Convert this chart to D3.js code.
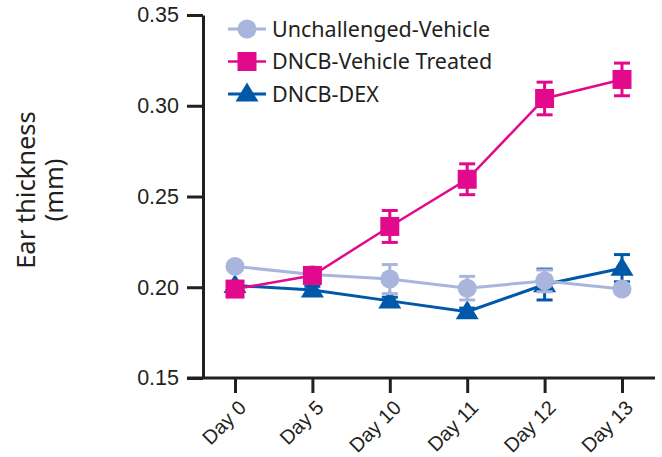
<!DOCTYPE html>
<html>
<head>
<meta charset="utf-8">
<script src="https://cdn.jsdelivr.net/npm/d3@7"></script>
<style>
  html, body { margin: 0; padding: 0; background: #fff; }
  svg { display: block; font-family: "Noto Sans", "Open Sans", sans-serif; }
</style>
</head>
<body>
<svg id="chart" width="662" height="457"></svg>
<script>
// Ear thickness over the study days, by treatment group
const days = ["Day 0", "Day 5", "Day 10", "Day 11", "Day 12", "Day 13"];
const yTicks = [0.15, 0.20, 0.25, 0.30, 0.35];

const seriesNames = ["Unchallenged-Vehicle", "DNCB-Vehicle Treated", "DNCB-DEX"];
const unchallengedMean = [0.2115, 0.207, 0.2045, 0.1995, 0.2035, 0.199];
const unchallengedErr  = [0.002, 0.002, 0.008, 0.0065, 0.006, 0.002];
const dncbVehicleMean  = [0.199, 0.2065, 0.2335, 0.2595, 0.304, 0.3145];
const dncbVehicleErr   = [0.002, 0.002, 0.0088, 0.0085, 0.009, 0.009];
const dncbDexMean      = [0.201, 0.1985, 0.1925, 0.1865, 0.2015, 0.2105];
const dncbDexErr       = [0.002, 0.002, 0.002, 0.002, 0.0085, 0.0075];

const colors = { lav: "#aab5dd", mag: "#e2098c", blue: "#0058a8" };
const axisColor = "#231f20";

const svg = d3.select("#chart");
const margin = { left: 203, top: 15, right: 655, bottom: 378 };

const x = d3.scalePoint().domain(days).range([235, 622]);
const y = d3.scaleLinear().domain([0.15, 0.35]).range([margin.bottom, margin.top]);

// Axes
const yAxis = svg.append("g")
  .attr("transform", `translate(${margin.left},0)`)
  .call(d3.axisLeft(y).tickValues(yTicks).tickFormat(d3.format(".2f")).tickSize(16).tickSizeOuter(0));
yAxis.select(".domain").attr("stroke", axisColor).attr("stroke-width", 3);
yAxis.selectAll(".tick line").attr("stroke", axisColor).attr("stroke-width", 3);
yAxis.selectAll(".tick text").attr("fill", "#231f20").attr("font-size", 21.5).attr("x", -24);

const xAxis = svg.append("g")
  .attr("transform", `translate(0,${margin.bottom})`)
  .call(d3.axisBottom(x).tickSize(15).tickSizeOuter(0));
xAxis.select(".domain").attr("stroke", axisColor).attr("stroke-width", 3)
  .attr("d", `M${margin.left - 16},0H${margin.right}`);
xAxis.selectAll(".tick line").attr("stroke", axisColor).attr("stroke-width", 3);
xAxis.selectAll(".tick text")
  .attr("fill", "#231f20").attr("font-size", 20)
  .attr("text-anchor", "end")
  .attr("dy", "0.35em")
  .attr("transform", "translate(7,26) rotate(-45)")
  .attr("x", 0).attr("y", 0);

// Y axis title
const title = svg.append("text")
  .attr("transform", "translate(44,190) rotate(-90)")
  .attr("text-anchor", "middle")
  .attr("fill", "#231f20")
  .attr("font-size", 25.5);
title.append("tspan").attr("x", 0).attr("dy", "-0.35em").text("Ear thickness");
title.append("tspan").attr("x", 0).attr("dy", "1.1em").text("(mm)");

// Marker shapes
const circleSym = d3.symbol().type(d3.symbolCircle).size(Math.PI * 9.5 * 9.5);
const squareSym = d3.symbol().type(d3.symbolSquare).size(19 * 19);
function triPath() {
  const w = 23, h = 19;
  return `M0,${-h * 0.6}L${w / 2},${h * 0.4}L${-w / 2},${h * 0.4}Z`;
}

const series = [
  { name: seriesNames[2], mean: dncbDexMean, err: dncbDexErr, color: colors.blue, width: 3, shape: "tri" },
  { name: seriesNames[0], mean: unchallengedMean, err: unchallengedErr, color: colors.lav, width: 3, shape: "circle" },
  { name: seriesNames[1], mean: dncbVehicleMean, err: dncbVehicleErr, color: colors.mag, width: 2.5, shape: "square" }
];

function marker(g, shape, color) {
  if (shape === "circle") g.append("path").attr("d", circleSym()).attr("fill", color);
  else if (shape === "square") g.append("path").attr("d", squareSym()).attr("fill", color);
  else g.append("path").attr("d", triPath()).attr("fill", color);
}

const line = d3.line().x((d, i) => x(days[i])).y(d => y(d));

series.forEach(s => {
  const g = svg.append("g");
  // error bars with caps
  s.mean.forEach((m, i) => {
    const cx = x(days[i]);
    const e = s.err[i];
    g.append("line").attr("x1", cx).attr("x2", cx).attr("y1", y(m + e)).attr("y2", y(m - e))
      .attr("stroke", s.color).attr("stroke-width", 3);
    [m + e, m - e].forEach(v => {
      g.append("line").attr("x1", cx - 8).attr("x2", cx + 8).attr("y1", y(v)).attr("y2", y(v))
        .attr("stroke", s.color).attr("stroke-width", 3);
    });
  });
  g.append("path").attr("d", line(s.mean)).attr("fill", "none")
    .attr("stroke", s.color).attr("stroke-width", s.width);
  s.mean.forEach((m, i) => {
    const mg = g.append("g").attr("transform", `translate(${x(days[i])},${y(m)})`);
    marker(mg, s.shape, s.color);
  });
});

// Legend
const legendItems = [
  { name: seriesNames[0], color: colors.lav, shape: "circle", width: 3 },
  { name: seriesNames[1], color: colors.mag, shape: "square", width: 2.5 },
  { name: seriesNames[2], color: colors.blue, shape: "tri", width: 3 }
];
legendItems.forEach((it, i) => {
  const ly = 29 + i * 32.5;
  const g = svg.append("g").attr("transform", `translate(0,${ly})`);
  g.append("line").attr("x1", 228).attr("x2", 266).attr("y1", 0).attr("y2", 0)
    .attr("stroke", it.color).attr("stroke-width", it.width);
  marker(g.append("g").attr("transform", "translate(247,0)"), it.shape, it.color);
  g.append("text").attr("x", 272).attr("y", 0).attr("dy", "0.35em")
    .attr("font-size", 21.5).attr("fill", "#231f20").text(it.name);
});
</script>
</body>
</html>
